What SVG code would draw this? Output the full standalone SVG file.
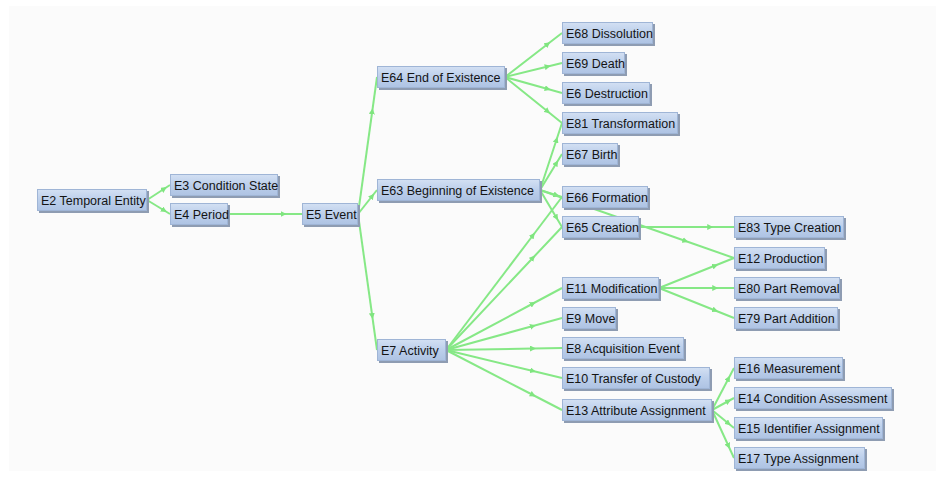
<svg xmlns="http://www.w3.org/2000/svg" width="944" height="477" viewBox="0 0 944 477">
  <defs>
    <linearGradient id="nodeFill" x1="0" y1="0" x2="0" y2="1">
      <stop offset="0" stop-color="#d3e0f3"/>
      <stop offset="0.5" stop-color="#bccfeb"/>
      <stop offset="1" stop-color="#aec3e3"/>
    </linearGradient>
    <marker id="arrow" viewBox="0 0 10 10" refX="5" refY="5" markerWidth="6" markerHeight="6" markerUnits="userSpaceOnUse" orient="auto">
      <path d="M0,0 L10,5 L0,10 z" fill="#7fe57f"/>
    </marker>
  </defs>
  <style>
    .edge { fill: none; stroke: #86e886; stroke-width: 2; marker-mid: url(#arrow); }
    .shadow { fill: #8e9cb2; }
    .box { fill: url(#nodeFill); stroke: #9fb5d6; stroke-width: 1; }
    .label { font-family: "Liberation Sans", Arial, sans-serif; font-size: 12.5px; fill: #141414; }
  </style>

  <rect x="0" y="0" width="944" height="477" fill="#ffffff"/>
  <rect x="9" y="6" width="927" height="465" fill="#fbfbfb"/>

  <!-- connectors: each edge carries a direction arrow three quarters along -->
  <g id="connectors">
    <path class="edge" d="M147,200 L164.25,188.75 L170,185"/>
    <path class="edge" d="M147,200 L164.25,210.5 L170,214"/>
    <path class="edge" d="M228,214 L283.5,214 L302,214"/>
    <path class="edge" d="M358,214 L372.25,111.25 L377,77"/>
    <path class="edge" d="M358,214 L372.25,196 L377,190"/>
    <path class="edge" d="M358,214 L372.25,316 L377,350"/>
    <path class="edge" d="M505,77 L547.75,44 L562,33"/>
    <path class="edge" d="M505,77 L547.75,66.5 L562,63"/>
    <path class="edge" d="M505,77 L547.75,89 L562,93"/>
    <path class="edge" d="M505,77 L547.75,111.5 L562,123"/>
    <path class="edge" d="M540,190 L556.5,139.75 L562,123"/>
    <path class="edge" d="M540,190 L556.5,163 L562,154"/>
    <path class="edge" d="M540,190 L556.5,195.25 L562,197"/>
    <path class="edge" d="M540,190 L556.5,217.75 L562,227"/>
    <path class="edge" d="M540,190 L685.5,241 L734,258"/>
    <path class="edge" d="M446,350 L533,235.25 L562,197"/>
    <path class="edge" d="M446,350 L533,257.75 L562,227"/>
    <path class="edge" d="M446,350 L533,303.5 L562,288"/>
    <path class="edge" d="M446,350 L533,326 L562,318"/>
    <path class="edge" d="M446,350 L533,348.5 L562,348"/>
    <path class="edge" d="M446,350 L533,371 L562,378"/>
    <path class="edge" d="M446,350 L533,395 L562,410"/>
    <path class="edge" d="M639,227 L710.25,227 L734,227"/>
    <path class="edge" d="M659,288 L715.25,265.5 L734,258"/>
    <path class="edge" d="M659,288 L715.25,288 L734,288"/>
    <path class="edge" d="M659,288 L715.25,310.5 L734,318"/>
    <path class="edge" d="M712,410 L728.5,378.5 L734,368"/>
    <path class="edge" d="M712,410 L728.5,401 L734,398"/>
    <path class="edge" d="M712,410 L728.5,423.5 L734,428"/>
    <path class="edge" d="M712,410 L728.5,446 L734,458"/>
  </g>

  <!-- nodes -->
  <g id="E2"><rect class="shadow" x="39" y="191" width="110" height="22"/><rect class="box" x="37.5" y="189.5" width="109" height="21"/><text class="label" x="41" y="204.5">E2 Temporal Entity</text></g>
  <g id="E3"><rect class="shadow" x="172" y="176" width="108" height="22"/><rect class="box" x="170.5" y="174.5" width="107" height="21"/><text class="label" x="174" y="189.5">E3 Condition State</text></g>
  <g id="E4"><rect class="shadow" x="172" y="205" width="58" height="22"/><rect class="box" x="170.5" y="203.5" width="57" height="21"/><text class="label" x="174" y="218.5">E4 Period</text></g>
  <g id="E5"><rect class="shadow" x="304" y="205" width="56" height="22"/><rect class="box" x="302.5" y="203.5" width="55" height="21"/><text class="label" x="306" y="218.5">E5 Event</text></g>
  <g id="E64"><rect class="shadow" x="379" y="68" width="128" height="22"/><rect class="box" x="377.5" y="66.5" width="127" height="21"/><text class="label" x="381" y="81.5">E64 End of Existence</text></g>
  <g id="E63"><rect class="shadow" x="379" y="181" width="163" height="22"/><rect class="box" x="377.5" y="179.5" width="162" height="21"/><text class="label" x="381" y="194.5">E63 Beginning of Existence</text></g>
  <g id="E7"><rect class="shadow" x="379" y="341" width="69" height="22"/><rect class="box" x="377.5" y="339.5" width="68" height="21"/><text class="label" x="381" y="354.5">E7 Activity</text></g>
  <g id="E68"><rect class="shadow" x="564" y="24" width="91" height="22"/><rect class="box" x="562.5" y="22.5" width="90" height="21"/><text class="label" x="566" y="37.5">E68 Dissolution</text></g>
  <g id="E69"><rect class="shadow" x="564" y="54" width="63" height="22"/><rect class="box" x="562.5" y="52.5" width="62" height="21"/><text class="label" x="566" y="67.5">E69 Death</text></g>
  <g id="E6"><rect class="shadow" x="564" y="84" width="88" height="22"/><rect class="box" x="562.5" y="82.5" width="87" height="21"/><text class="label" x="566" y="97.5">E6 Destruction</text></g>
  <g id="E81"><rect class="shadow" x="564" y="114" width="116" height="22"/><rect class="box" x="562.5" y="112.5" width="115" height="21"/><text class="label" x="566" y="127.5">E81 Transformation</text></g>
  <g id="E67"><rect class="shadow" x="564" y="145" width="56" height="22"/><rect class="box" x="562.5" y="143.5" width="55" height="21"/><text class="label" x="566" y="158.5">E67 Birth</text></g>
  <g id="E66"><rect class="shadow" x="564" y="188" width="86" height="22"/><rect class="box" x="562.5" y="186.5" width="85" height="21"/><text class="label" x="566" y="201.5">E66 Formation</text></g>
  <g id="E65"><rect class="shadow" x="564" y="218" width="77" height="22"/><rect class="box" x="562.5" y="216.5" width="76" height="21"/><text class="label" x="566" y="231.5">E65 Creation</text></g>
  <g id="E11"><rect class="shadow" x="564" y="279" width="97" height="22"/><rect class="box" x="562.5" y="277.5" width="96" height="21"/><text class="label" x="566" y="292.5">E11 Modification</text></g>
  <g id="E9"><rect class="shadow" x="564" y="309" width="54" height="22"/><rect class="box" x="562.5" y="307.5" width="53" height="21"/><text class="label" x="566" y="322.5">E9 Move</text></g>
  <g id="E8"><rect class="shadow" x="564" y="339" width="122" height="22"/><rect class="box" x="562.5" y="337.5" width="121" height="21"/><text class="label" x="566" y="352.5">E8 Acquisition Event</text></g>
  <g id="E10"><rect class="shadow" x="564" y="369" width="148" height="22"/><rect class="box" x="562.5" y="367.5" width="147" height="21"/><text class="label" x="566" y="382.5">E10 Transfer of Custody</text></g>
  <g id="E13"><rect class="shadow" x="564" y="401" width="150" height="22"/><rect class="box" x="562.5" y="399.5" width="149" height="21"/><text class="label" x="566" y="414.5">E13 Attribute Assignment</text></g>
  <g id="E83"><rect class="shadow" x="736" y="218" width="110" height="22"/><rect class="box" x="734.5" y="216.5" width="109" height="21"/><text class="label" x="738" y="231.5">E83 Type Creation</text></g>
  <g id="E12"><rect class="shadow" x="736" y="249" width="91" height="22"/><rect class="box" x="734.5" y="247.5" width="90" height="21"/><text class="label" x="738" y="262.5">E12 Production</text></g>
  <g id="E80"><rect class="shadow" x="736" y="279" width="106" height="22"/><rect class="box" x="734.5" y="277.5" width="105" height="21"/><text class="label" x="738" y="292.5">E80 Part Removal</text></g>
  <g id="E79"><rect class="shadow" x="736" y="309" width="104" height="22"/><rect class="box" x="734.5" y="307.5" width="103" height="21"/><text class="label" x="738" y="322.5">E79 Part Addition</text></g>
  <g id="E16"><rect class="shadow" x="736" y="359" width="109" height="22"/><rect class="box" x="734.5" y="357.5" width="108" height="21"/><text class="label" x="738" y="372.5">E16 Measurement</text></g>
  <g id="E14"><rect class="shadow" x="736" y="389" width="158" height="22"/><rect class="box" x="734.5" y="387.5" width="157" height="21"/><text class="label" x="738" y="402.5">E14 Condition Assessment</text></g>
  <g id="E15"><rect class="shadow" x="736" y="419" width="149" height="22"/><rect class="box" x="734.5" y="417.5" width="148" height="21"/><text class="label" x="738" y="432.5">E15 Identifier Assignment</text></g>
  <g id="E17"><rect class="shadow" x="736" y="449" width="131" height="22"/><rect class="box" x="734.5" y="447.5" width="130" height="21"/><text class="label" x="738" y="462.5">E17 Type Assignment</text></g>
</svg>
